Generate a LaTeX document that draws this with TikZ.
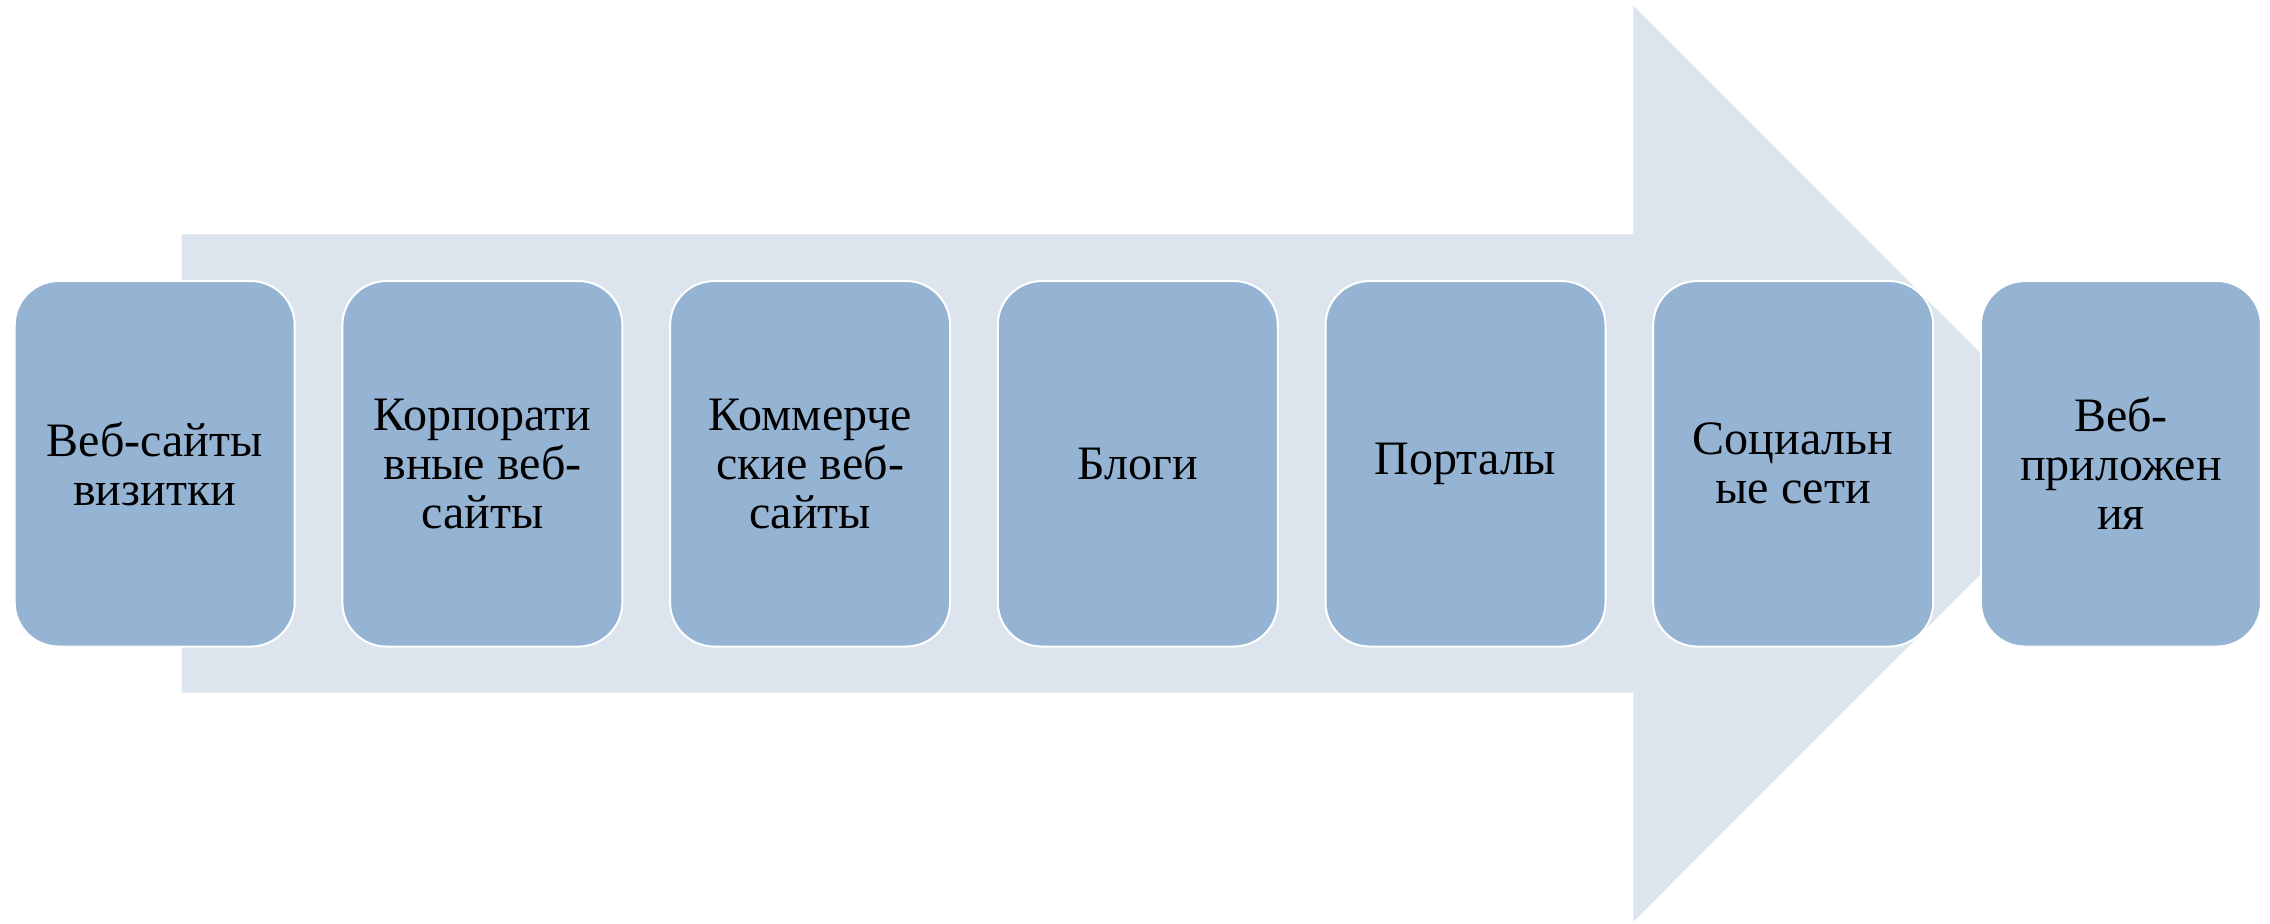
\documentclass[tikz,border=0pt]{standalone}
\usepackage{fontspec}
\setmainfont{Liberation Serif}
\definecolor{arrowfill}{HTML}{DCE4EE}
\definecolor{boxfill}{HTML}{95B4D3}
\begin{document}
\begin{tikzpicture}[x=0.5pt,y=-0.5pt,
  stagebox/.style={rectangle, rounded corners=22pt, fill=boxfill, draw=white,
    line width=1pt, minimum width=140pt, minimum height=182.75pt,
    inner sep=0pt, align=center, text=black,
    font=\fontsize{24}{24.5}\selectfont}]
\useasboundingbox (0,0) rectangle (2270,924);
% big background arrow
\fill[arrowfill] (181.7,234.3) -- (1633.3,234.3) -- (1633.3,5.7) -- (2091,463.7)
  -- (1633.3,921.7) -- (1633.3,692.7) -- (181.7,692.7) -- cycle;
% stages
\node[stagebox] (s1) at (154.7,463.8) {Веб-сайты\\визитки};
\node[stagebox] (s2) at (482.4,463.8) {Корпорати\\вные веб-\\сайты};
\node[stagebox] (s3) at (810.1,463.8) {Коммерче\\ские веб-\\сайты};
\node[stagebox] (s4) at (1137.8,463.8) {Блоги};
\node[stagebox] (s5) at (1465.5,463.8) {Порталы};
\node[stagebox] (s6) at (1793.2,463.8) {Социальн\\ые сети};
\node[stagebox] (s7) at (2120.9,463.8) {Веб-\\приложен\\ия};
\end{tikzpicture}
\end{document}
